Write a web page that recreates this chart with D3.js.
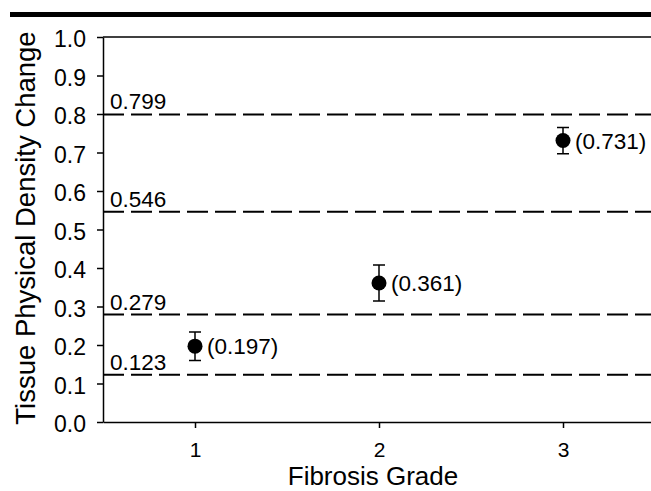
<!DOCTYPE html>
<html>
<head>
<meta charset="utf-8">
<script src="https://cdn.jsdelivr.net/npm/d3@7"></script>
<style>
body { margin: 0; background: white; }
</style>
</head>
<body>
<div id="chart"></div>
<script>
let grades = [1, 2, 3]
let means = [0.197, 0.361, 0.731]
let errs = [0.037, 0.047, 0.034]
let cutoffs = [0.799, 0.546, 0.279, 0.123]
let yTicks = [0, 0.1, 0.2, 0.3, 0.4, 0.5, 0.6, 0.7, 0.8, 0.9, 1.0]

let width = 651
let height = 491
let plotLeft = 103
let plotTop = 37
let plotBottom = 422
let font = 'Liberation Sans, Arial, sans-serif'

const svg = d3.select('#chart')
	.append('svg')
	.attr('width', width)
	.attr('height', height)

// black banner at top
svg.append('rect')
	.attr('x', 10)
	.attr('y', 12)
	.attr('width', width - 10)
	.attr('height', 5)
	.attr('fill', 'black')

let xScale = d3.scaleLinear()
	.domain([0.5, 3.5])
	.range([plotLeft, 655])

let yScale = d3.scaleLinear()
	.domain([0, 1])
	.range([plotBottom, plotTop])

let yG = svg.append('g')
	.attr('transform', `translate(${plotLeft},0)`)
	.call(d3.axisLeft(yScale).tickValues(yTicks).tickFormat(d3.format('.1f')).tickSize(6).tickSizeOuter(0))

yG.selectAll('text').attr('font-size', 23).attr('font-family', font).attr('fill', 'black').attr('x', -17).attr('dy', '0.42em')
yG.selectAll('path, line').attr('stroke', 'black').attr('stroke-width', 1.5)

let xG = svg.append('g')
	.attr('transform', `translate(0,${plotBottom})`)
	.call(d3.axisBottom(xScale).tickValues(grades).tickFormat(d3.format('d')).tickSize(6).tickSizeOuter(0))

xG.selectAll('text').attr('font-size', 21).attr('font-family', font).attr('fill', 'black').attr('y', 35).attr('dy', 0)
xG.selectAll('path, line').attr('stroke', 'black').attr('stroke-width', 1.5)

// top frame line
svg.append('line')
	.attr('x1', plotLeft).attr('x2', width)
	.attr('y1', yScale(1)).attr('y2', yScale(1))
	.attr('stroke', 'black')
	.attr('stroke-width', 1.5)

// cutoff lines
svg.selectAll('.cut')
	.data(cutoffs)
	.enter()
	.append('line')
	.attr('x1', plotLeft).attr('x2', width)
	.attr('y1', d => yScale(d)).attr('y2', d => yScale(d))
	.attr('stroke', 'black')
	.attr('stroke-width', 2)
	.attr('stroke-dasharray', '21,7')

svg.selectAll('.cutLabel')
	.data(cutoffs)
	.enter()
	.append('text')
	.attr('x', plotLeft + 7)
	.attr('y', d => yScale(d) - 5)
	.attr('font-size', 22.5)
	.attr('font-family', font)
	.text(d => d3.format('.3f')(d))

// error bars
let pts = grades.map((g, i) => ({g: g, m: means[i], e: errs[i]}))

svg.selectAll('.err')
	.data(pts)
	.enter()
	.append('path')
	.attr('d', d => {
		let x = xScale(d.g), y1 = yScale(d.m + d.e), y0 = yScale(d.m - d.e)
		return `M${x - 6},${y1}H${x + 6}M${x},${y1}V${y0}M${x - 6},${y0}H${x + 6}`
	})
	.attr('stroke', 'black')
	.attr('stroke-width', 1.5)
	.attr('fill', 'none')

svg.selectAll('.dot')
	.data(pts)
	.enter()
	.append('circle')
	.attr('cx', d => xScale(d.g))
	.attr('cy', d => yScale(d.m))
	.attr('r', 7.5)
	.attr('fill', 'black')

svg.selectAll('.valLabel')
	.data(pts)
	.enter()
	.append('text')
	.attr('x', d => xScale(d.g) + 12)
	.attr('y', d => yScale(d.m) + 8)
	.attr('font-size', 22.5)
	.attr('font-family', font)
	.text(d => '(' + d3.format('.3f')(d.m) + ')')

// axis titles
svg.append('text')
	.attr('x', 373)
	.attr('y', 485)
	.attr('text-anchor', 'middle')
	.attr('font-size', 26)
	.attr('font-family', font)
	.text('Fibrosis Grade')

svg.append('text')
	.attr('transform', `translate(35,228) rotate(-90)`)
	.attr('text-anchor', 'middle')
	.attr('font-size', 27.5)
	.attr('font-family', font)
	.text('Tissue Physical Density Change')
</script>
</body>
</html>
